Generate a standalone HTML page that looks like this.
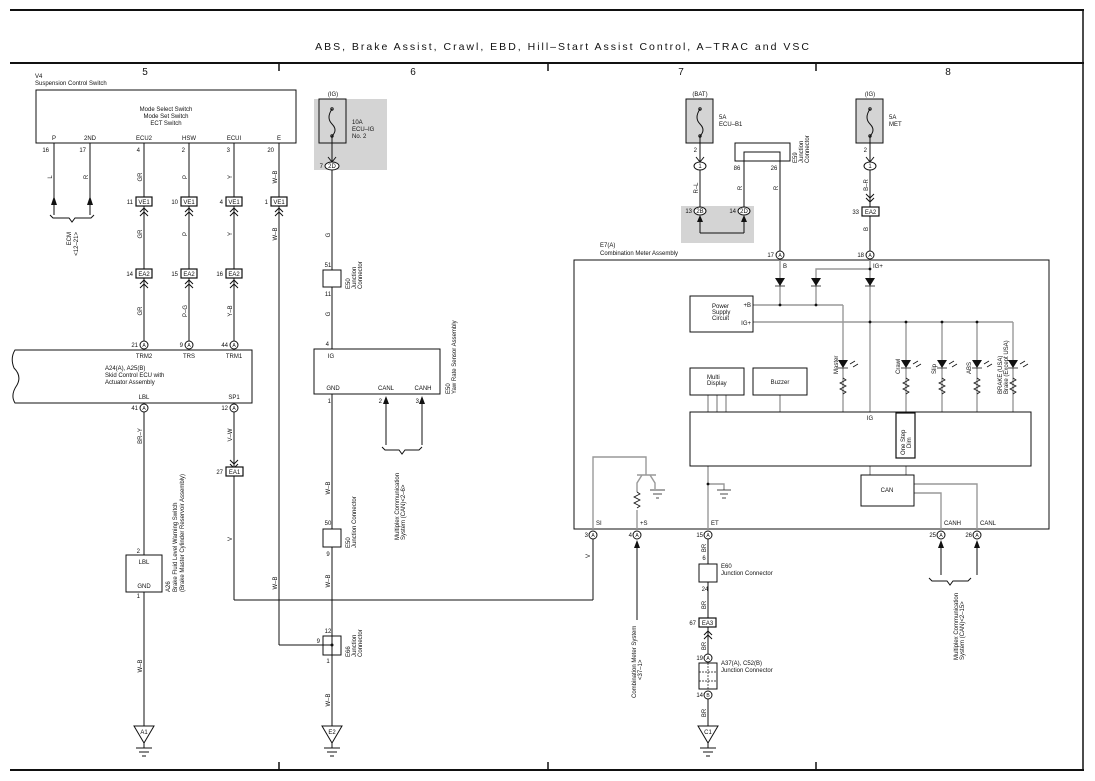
<!DOCTYPE html>
<html><head><meta charset="utf-8"><style>
html,body{margin:0;padding:0;background:#fff}
svg{display:block}
text{font-family:"Liberation Sans",sans-serif;font-size:6px;fill:#111}
.k{stroke:#111;stroke-width:1;fill:none}
.g{stroke:#999;stroke-width:1.4;fill:none}
.m{text-anchor:middle}
.e{text-anchor:end}
</style></head><body>
<svg width="1095" height="781" viewBox="0 0 1095 781" xmlns="http://www.w3.org/2000/svg">
<!-- frame -->
<line x1="10" y1="10" x2="1084" y2="10" stroke="#111" stroke-width="2"/>
<line x1="1083" y1="10" x2="1083" y2="771" stroke="#111" stroke-width="1.5"/>
<line x1="10" y1="63" x2="1084" y2="63" stroke="#111" stroke-width="2"/>
<line x1="10" y1="770" x2="1084" y2="770" stroke="#111" stroke-width="2"/>
<text x="563" y="50" class="m" style="font-size:10.5px;letter-spacing:2px">ABS, Brake Assist, Crawl, EBD, Hill–Start Assist Control, A–TRAC and VSC</text>
<g stroke="#111" stroke-width="1.5"><line x1="279" y1="63" x2="279" y2="71"/><line x1="548" y1="63" x2="548" y2="71"/><line x1="816" y1="63" x2="816" y2="71"/>
<line x1="279" y1="762" x2="279" y2="770"/><line x1="548" y1="762" x2="548" y2="770"/><line x1="816" y1="762" x2="816" y2="770"/></g>
<g style="font-size:10px" class="m"><text x="145" y="75" class="m" style="font-size:10px">5</text><text x="413" y="75" class="m" style="font-size:10px">6</text><text x="681" y="75" class="m" style="font-size:10px">7</text><text x="948" y="75" class="m" style="font-size:10px">8</text></g>

<!-- Suspension control switch -->
<text x="35" y="78">V4</text><text x="35" y="85">Suspension Control Switch</text>
<rect x="36" y="90" width="260" height="53" class="k"/>
<text x="166" y="111" class="m">Mode Select Switch</text><text x="166" y="118" class="m">Mode Set Switch</text><text x="166" y="125" class="m">ECT Switch</text>
<text x="54" y="140" class="m">P</text><text x="90" y="140" class="m">2ND</text><text x="144" y="140" class="m">ECU2</text><text x="189" y="140" class="m">HSW</text><text x="234" y="140" class="m">ECUI</text><text x="279" y="140" class="m">E</text>
<text x="49" y="152" class="e">16</text><text x="86" y="152" class="e">17</text><text x="140" y="152" class="e">4</text><text x="185" y="152" class="e">2</text><text x="230" y="152" class="e">3</text><text x="274" y="152" class="e">20</text>
<g class="k"><line x1="54" y1="143" x2="54" y2="215"/><line x1="90" y1="143" x2="90" y2="215"/>
<line x1="144" y1="143" x2="144" y2="341"/><line x1="189" y1="143" x2="189" y2="341"/><line x1="234" y1="143" x2="234" y2="341"/>
<line x1="279" y1="143" x2="279" y2="645"/><line x1="279" y1="645" x2="332" y2="645"/>
<path d="M50 215 l3 3 h16 l3 4 l3 -4 h16 l3 -3"/></g>
<polygon points="54,196 51,205 57,205" fill="#111"/><polygon points="90,196 87,205 93,205" fill="#111"/>
<text transform="translate(71,232) rotate(-90)" class="e">ECM</text><text transform="translate(78,232) rotate(-90)" class="e">&lt;12–21&gt;</text>
<!-- wire labels -->
<g><text transform="translate(52,177) rotate(-90)" class="m">L</text><text transform="translate(88,177) rotate(-90)" class="m">R</text>
<text transform="translate(142,177) rotate(-90)" class="m">GR</text><text transform="translate(187,177) rotate(-90)" class="m">P</text><text transform="translate(232,177) rotate(-90)" class="m">Y</text><text transform="translate(277,177) rotate(-90)" class="m">W–B</text>
<text transform="translate(142,234) rotate(-90)" class="m">GR</text><text transform="translate(187,234) rotate(-90)" class="m">P</text><text transform="translate(232,234) rotate(-90)" class="m">Y</text><text transform="translate(277,234) rotate(-90)" class="m">W–B</text>
<text transform="translate(142,311) rotate(-90)" class="m">GR</text><text transform="translate(187,311) rotate(-90)" class="m">P–G</text><text transform="translate(232,311) rotate(-90)" class="m">Y–B</text></g>
<!-- VE1 boxes -->
<g fill="#fff" stroke="#111" stroke-width="1.2"><rect x="136" y="197" width="16" height="9"/><rect x="181" y="197" width="16" height="9"/><rect x="226" y="197" width="16" height="9"/><rect x="271" y="197" width="16" height="9"/>
<rect x="136" y="269" width="16" height="9"/><rect x="181" y="269" width="16" height="9"/><rect x="226" y="269" width="16" height="9"/></g>
<text x="144" y="204" class="m">VE1</text><text x="189" y="204" class="m">VE1</text><text x="234" y="204" class="m">VE1</text><text x="279" y="204" class="m">VE1</text>
<text x="133" y="204" class="e">11</text><text x="178" y="204" class="e">10</text><text x="223" y="204" class="e">4</text><text x="268" y="204" class="e">1</text>
<text x="144" y="276" class="m">EA2</text><text x="189" y="276" class="m">EA2</text><text x="234" y="276" class="m">EA2</text>
<text x="133" y="276" class="e">14</text><text x="178" y="276" class="e">15</text><text x="223" y="276" class="e">16</text>
<g class="k"><path d="M140 212 l4 -4 l4 4 M140 216 l4 -4 l4 4 M185 212 l4 -4 l4 4 M185 216 l4 -4 l4 4 M230 212 l4 -4 l4 4 M230 216 l4 -4 l4 4 M275 212 l4 -4 l4 4 M275 216 l4 -4 l4 4
M140 284 l4 -4 l4 4 M140 288 l4 -4 l4 4 M185 284 l4 -4 l4 4 M185 288 l4 -4 l4 4 M230 284 l4 -4 l4 4 M230 288 l4 -4 l4 4"/></g>
<!-- pin circles A -->
<g fill="#fff" stroke="#111"><circle cx="144" cy="345" r="4"/><circle cx="189" cy="345" r="4"/><circle cx="234" cy="345" r="4"/><circle cx="144" cy="408" r="4"/><circle cx="234" cy="408" r="4"/></g>
<text x="144" y="347" class="m" style="font-size:5px">A</text><text x="189" y="347" class="m" style="font-size:5px">A</text><text x="234" y="347" class="m" style="font-size:5px">A</text><text x="144" y="410" class="m" style="font-size:5px">A</text><text x="234" y="410" class="m" style="font-size:5px">A</text>
<text x="138" y="347" class="e">21</text><text x="183" y="347" class="e">9</text><text x="228" y="347" class="e">44</text><text x="138" y="410" class="e">41</text><text x="228" y="410" class="e">12</text>
<!-- ECU -->
<path d="M15 350 H252 V403 H15 Q10 395 17 385 Q22 376 14 368 Q10 358 15 350 Z" class="k"/>
<text x="144" y="358" class="m">TRM2</text><text x="189" y="358" class="m">TRS</text><text x="234" y="358" class="m">TRM1</text>
<text x="105" y="370">A24(A), A25(B)</text><text x="105" y="377">Skid Control ECU with</text><text x="105" y="384">Actuator Assembly</text>
<text x="144" y="399" class="m">LBL</text><text x="234" y="399" class="m">SP1</text>
<g class="k"><line x1="144" y1="412" x2="144" y2="555"/><line x1="144" y1="592" x2="144" y2="726"/>
<line x1="234" y1="412" x2="234" y2="467"/><line x1="234" y1="476" x2="234" y2="600"/><line x1="234" y1="600" x2="593" y2="600"/><line x1="593" y1="600" x2="593" y2="539"/>
<path d="M230 464 l4 4 l4 -4 M230 460 l4 4 l4 -4"/></g>
<rect x="226" y="467" width="17" height="9" fill="#fff" stroke="#111" stroke-width="1.2"/><text x="234.5" y="474" class="m">EA1</text><text x="223" y="474" class="e">27</text>
<text transform="translate(142,436) rotate(-90)" class="m">BR–Y</text><text transform="translate(232,435) rotate(-90)" class="m">V–W</text><text transform="translate(232,539) rotate(-90)" class="m">V</text><text transform="translate(277,583) rotate(-90)" class="m">W–B</text>
<rect x="126" y="555" width="36" height="37" class="k"/><text x="144" y="564" class="m">LBL</text><text x="144" y="588" class="m">GND</text><text x="140" y="553" class="e">2</text><text x="140" y="598" class="e">1</text>
<text transform="translate(170,592) rotate(-90)">A26</text><text transform="translate(177,592) rotate(-90)">Brake Fluid Level Warning Switch</text><text transform="translate(184,592) rotate(-90)">(Brake Master Cylinder Reservoir Assembly)</text>
<text transform="translate(142,666) rotate(-90)" class="m">W–B</text>
<!-- grounds -->
<g class="k"><path d="M134 726 H154 L144 743 Z M144 743 V748 M136 748 H152 M139 752 H149 M142 756 H146"/>
<path d="M322 726 H342 L332 743 Z M332 743 V748 M324 748 H340 M327 752 H337 M330 756 H334"/>
<path d="M698 726 H718 L708 743 Z M708 743 V748 M700 748 H716 M703 752 H713 M706 756 H710"/></g>
<text x="144" y="734" class="m">A1</text><text x="332" y="734" class="m">E2</text><text x="708" y="734" class="m">C1</text>

<!-- column 6 -->
<rect x="314" y="99" width="73" height="71" fill="#d4d4d4"/>
<rect x="319" y="99" width="27" height="44" fill="#d4d4d4" stroke="#111"/>
<path d="M332 109 Q326 118 332 124 Q338 130 332 136" class="k"/><circle cx="332" cy="109" r="1.2" class="k"/><circle cx="332" cy="136" r="1.2" class="k"/>
<text x="333" y="96" class="m">(IG)</text><text x="352" y="124">10A</text><text x="352" y="131">ECU–IG</text><text x="352" y="138">No. 2</text>
<line x1="332" y1="136" x2="332" y2="162" class="k"/><path d="M328 157 l4 5 l4 -5" class="k"/>
<ellipse cx="332" cy="166" rx="7" ry="4" fill="#fff" stroke="#111"/><text x="332" y="168" class="m">2D</text><text x="323" y="168" class="e">7</text>
<g class="k"><line x1="332" y1="170" x2="332" y2="349"/><line x1="332" y1="394" x2="332" y2="726"/></g>
<text transform="translate(330,235) rotate(-90)" class="m">G</text><text transform="translate(330,314) rotate(-90)" class="m">G</text>
<rect x="323" y="270" width="18" height="17" fill="#fff" stroke="#111"/><text x="328" y="267" class="m">51</text><text x="328" y="296" class="m">11</text>
<text transform="translate(350,289) rotate(-90)">E50</text><text transform="translate(356,289) rotate(-90)">Junction</text><text transform="translate(362,289) rotate(-90)">Connector</text>
<text x="329" y="346" class="e">4</text>
<rect x="314" y="349" width="126" height="45" class="k"/><text x="331" y="358" class="m">IG</text>
<text x="333" y="390" class="m">GND</text><text x="386" y="390" class="m">CANL</text><text x="423" y="390" class="m">CANH</text>
<text transform="translate(450,394) rotate(-90)">E50</text><text transform="translate(456,394) rotate(-90)">Yaw Rate Sensor Assembly</text>
<text x="331" y="403" class="e">1</text><text x="382" y="403" class="e">2</text><text x="419" y="403" class="e">3</text>
<g class="k"><line x1="386" y1="403" x2="386" y2="445"/><line x1="422" y1="403" x2="422" y2="445"/><path d="M382 447 l3 3 h14 l3 4 l3 -4 h14 l3 -3"/></g>
<polygon points="386,396 383,404 389,404" fill="#111"/><polygon points="422,396 419,404 425,404" fill="#111"/>
<text transform="translate(399,540) rotate(-90)">Multiplex Communication</text><text transform="translate(405,540) rotate(-90)">System (CAN)&lt;2–6&gt;</text>
<text transform="translate(330,488) rotate(-90)" class="m">W–B</text><text transform="translate(330,581) rotate(-90)" class="m">W–B</text><text transform="translate(330,700) rotate(-90)" class="m">W–B</text>
<rect x="323" y="529" width="18" height="18" fill="#fff" stroke="#111"/><text x="328" y="525" class="m">50</text><text x="328" y="556" class="m">9</text>
<text transform="translate(350,548) rotate(-90)">E50</text><text transform="translate(356,548) rotate(-90)">Junction Connector</text>
<rect x="323" y="636" width="18" height="19" fill="#fff" stroke="#111"/><circle cx="332" cy="645" r="1.5" fill="#111"/><line x1="332" y1="636" x2="332" y2="655" class="k"/><line x1="323" y1="645" x2="332" y2="645" class="k"/>
<text x="328" y="633" class="m">12</text><text x="320" y="643" class="e">9</text><text x="328" y="663" class="m">1</text>
<text transform="translate(350,657) rotate(-90)">E66</text><text transform="translate(356,657) rotate(-90)">Junction</text><text transform="translate(362,657) rotate(-90)">Connector</text>

<!-- column 7/8 fuses -->
<rect x="686" y="99" width="27" height="44" fill="#d4d4d4" stroke="#111"/>
<path d="M700 109 Q694 118 700 124 Q706 130 700 136" class="k"/><circle cx="700" cy="109" r="1.2" class="k"/><circle cx="700" cy="136" r="1.2" class="k"/>
<text x="700" y="96" class="m">(BAT)</text><text x="719" y="119">5A</text><text x="719" y="126">ECU–B1</text>
<rect x="856" y="99" width="27" height="44" fill="#d4d4d4" stroke="#111"/>
<path d="M870 109 Q864 118 870 124 Q876 130 870 136" class="k"/><circle cx="870" cy="109" r="1.2" class="k"/><circle cx="870" cy="136" r="1.2" class="k"/>
<text x="870" y="96" class="m">(IG)</text><text x="889" y="119">5A</text><text x="889" y="126">MET</text>
<g class="k"><line x1="700" y1="136" x2="700" y2="162"/><path d="M696 157 l4 5 l4 -5"/><line x1="870" y1="136" x2="870" y2="162"/><path d="M866 157 l4 5 l4 -5"/></g>
<text x="697" y="152" class="e">2</text><text x="867" y="152" class="e">2</text>
<ellipse cx="700" cy="166" rx="6" ry="4" fill="#fff" stroke="#111"/><text x="700" y="168" class="m">1</text>
<ellipse cx="870" cy="166" rx="6" ry="4" fill="#fff" stroke="#111"/><text x="870" y="168" class="m">1</text>
<rect x="681" y="206" width="73" height="37" fill="#d4d4d4"/>
<g class="k"><line x1="700" y1="170" x2="700" y2="207"/><line x1="700" y1="220" x2="700" y2="233"/><line x1="700" y1="233" x2="744" y2="233"/><line x1="744" y1="233" x2="744" y2="220"/>
<path d="M744 207 V152 H780 V251"/><rect x="735" y="143" width="55" height="18"/>
<line x1="870" y1="170" x2="870" y2="207"/><line x1="870" y1="216" x2="870" y2="251"/><path d="M866 198 l4 4 l4 -4 M866 194 l4 4 l4 -4"/></g>
<polygon points="700,215 697,222 703,222" fill="#111"/><polygon points="744,215 741,222 747,222" fill="#111"/>
<ellipse cx="700" cy="211" rx="6" ry="4" fill="#fff" stroke="#111"/><text x="700" y="213" class="m">2B</text><text x="692" y="213" class="e">13</text>
<ellipse cx="744" cy="211" rx="6" ry="4" fill="#fff" stroke="#111"/><text x="744" y="213" class="m">2D</text><text x="736" y="213" class="e">14</text>
<text x="737" y="170" class="m">86</text><text x="774" y="170" class="m">26</text>
<text transform="translate(797,163) rotate(-90)">E59</text><text transform="translate(803,163) rotate(-90)">Junction</text><text transform="translate(809,163) rotate(-90)">Connector</text>
<text transform="translate(698,188) rotate(-90)" class="m">R–L</text><text transform="translate(742,188) rotate(-90)" class="m">R</text><text transform="translate(778,188) rotate(-90)" class="m">R</text>
<text transform="translate(868,185) rotate(-90)" class="m">B–R</text><text transform="translate(868,229) rotate(-90)" class="m">B</text>
<rect x="862" y="207" width="17" height="9" fill="#fff" stroke="#111" stroke-width="1.2"/><text x="870.5" y="214" class="m">EA2</text><text x="859" y="214" class="e">33</text>
<g fill="#fff" stroke="#111"><circle cx="780" cy="255" r="4"/><circle cx="870" cy="255" r="4"/></g>
<text x="780" y="257" class="m" style="font-size:5px">A</text><text x="870" y="257" class="m" style="font-size:5px">A</text>
<text x="774" y="257" class="e">17</text><text x="864" y="257" class="e">18</text>

<!-- combination meter -->
<text x="600" y="247">E7(A)</text><text x="600" y="255">Combination Meter Assembly</text>
<rect x="574" y="260" width="475" height="269" class="k"/>
<g class="g">
<line x1="780" y1="260" x2="780" y2="305"/><line x1="870" y1="260" x2="870" y2="412"/>
<path d="M816 286 V269 H870"/><line x1="816" y1="286" x2="816" y2="305"/>
<line x1="753" y1="305" x2="843" y2="305"/><line x1="843" y1="305" x2="843" y2="360"/>
<line x1="753" y1="322" x2="1013" y2="322"/>
<line x1="906" y1="322" x2="906" y2="360"/><line x1="942" y1="322" x2="942" y2="360"/><line x1="977" y1="322" x2="977" y2="360"/><line x1="1013" y1="322" x2="1013" y2="360"/>
<line x1="843" y1="368" x2="843" y2="412"/><line x1="906" y1="368" x2="906" y2="412"/><line x1="942" y1="368" x2="942" y2="412"/><line x1="977" y1="368" x2="977" y2="412"/><line x1="1013" y1="368" x2="1013" y2="412"/>
<line x1="708" y1="395" x2="708" y2="412"/><line x1="717" y1="395" x2="717" y2="412"/><line x1="726" y1="395" x2="726" y2="412"/><line x1="780" y1="395" x2="780" y2="412"/>
<line x1="870" y1="466" x2="870" y2="475"/><line x1="906" y1="466" x2="906" y2="475"/>
<path d="M914 484 H977 V529 M914 493 H941 V529"/>
<path d="M593 529 V457 H646 V475 M637 475 H656 M642 475 L637 483 V492 M650 475 L655 483 V489 M637 510 V529"/>
<path d="M708 466 V529 M708 484 H724 V490"/>
</g>
<g fill="#fff" stroke="#111"><rect x="690" y="296" width="63" height="36"/><rect x="690" y="368" width="54" height="27"/><rect x="753" y="368" width="54" height="27"/><rect x="690" y="412" width="341" height="54"/><rect x="896" y="413" width="19" height="45" stroke-width="1.2"/><rect x="861" y="475" width="53" height="31"/></g>
<g fill="#111"><polygon points="775,278 785,278 780,286"/><polygon points="811,278 821,278 816,286"/><polygon points="865,278 875,278 870,286"/>
<circle cx="780" cy="305" r="1.4"/><circle cx="816" cy="305" r="1.4"/><circle cx="870" cy="269" r="1.4"/><circle cx="870" cy="322" r="1.4"/><circle cx="906" cy="322" r="1.4"/><circle cx="942" cy="322" r="1.4"/><circle cx="977" cy="322" r="1.4"/><circle cx="708" cy="484" r="1.4"/>
<polygon points="838,360 848,360 843,368"/><polygon points="901,360 911,360 906,368"/><polygon points="937,360 947,360 942,368"/><polygon points="972,360 982,360 977,368"/><polygon points="1008,360 1018,360 1013,368"/></g>
<g stroke="#111" stroke-width="0.8" fill="none">
<path d="M775 286 H785 M811 286 H821 M865 286 H875 M838 368 H848 M901 368 H911 M937 368 H947 M972 368 H982 M1008 368 H1018"/>
<path d="M850 364 l5 -3 M853 367 l5 -3 M913 364 l5 -3 M916 367 l5 -3 M949 364 l5 -3 M952 367 l5 -3 M984 364 l5 -3 M987 367 l5 -3 M1020 364 l5 -3 M1023 367 l5 -3"/>
<path d="M843 378 l3 2 l-6 3 l6 3 l-6 3 l6 3 l-3 2 M906 378 l3 2 l-6 3 l6 3 l-6 3 l6 3 l-3 2 M942 378 l3 2 l-6 3 l6 3 l-6 3 l6 3 l-3 2 M977 378 l3 2 l-6 3 l6 3 l-6 3 l6 3 l-3 2 M1013 378 l3 2 l-6 3 l6 3 l-6 3 l6 3 l-3 2"/>
<path d="M637 492 l3 2 l-6 3 l6 3 l-6 3 l6 3 l-3 2"/>
<path d="M650 490 H665 M653 494 H662 M656 498 H659 M717 490 H731 M720 494 H728 M722 498 H726"/>
</g>
<text x="712" y="308">Power</text><text x="712" y="314">Supply</text><text x="712" y="320">Circuit</text>
<text x="751" y="307" class="e">+B</text><text x="751" y="325" class="e">IG+</text>
<text x="783" y="268">B</text><text x="873" y="268">IG+</text>
<text x="707" y="379">Multi</text><text x="707" y="385">Display</text><text x="780" y="384" class="m">Buzzer</text>
<text x="870" y="420" class="m">IG</text>
<text transform="translate(905,455) rotate(-90)">One Step</text><text transform="translate(911,448) rotate(-90)">Dim</text>
<text x="887" y="492" class="m">CAN</text>
<text transform="translate(838,374) rotate(-90)">Master</text><text transform="translate(900,374) rotate(-90)">Crawl</text><text transform="translate(936,374) rotate(-90)">Slip</text><text transform="translate(971,374) rotate(-90)">ABS</text>
<text transform="translate(1002,394) rotate(-90)">BRAKE (USA)</text><text transform="translate(1008,394) rotate(-90)">Brake (Except USA)</text>
<text x="596" y="525">SI</text><text x="640" y="525">+S</text><text x="711" y="525">ET</text><text x="944" y="525">CANH</text><text x="980" y="525">CANL</text>
<g fill="#fff" stroke="#111"><circle cx="593" cy="535" r="4"/><circle cx="637" cy="535" r="4"/><circle cx="708" cy="535" r="4"/><circle cx="941" cy="535" r="4"/><circle cx="977" cy="535" r="4"/><circle cx="708" cy="658" r="4"/><circle cx="708" cy="695" r="4"/></g>
<text x="593" y="537" class="m" style="font-size:5px">A</text><text x="637" y="537" class="m" style="font-size:5px">A</text><text x="708" y="537" class="m" style="font-size:5px">A</text><text x="941" y="537" class="m" style="font-size:5px">A</text><text x="977" y="537" class="m" style="font-size:5px">A</text><text x="708" y="660" class="m" style="font-size:5px">A</text><text x="708" y="697" class="m" style="font-size:5px">B</text>
<text x="588" y="537" class="e">3</text><text x="632" y="537" class="e">4</text><text x="703" y="537" class="e">15</text><text x="936" y="537" class="e">25</text><text x="972" y="537" class="e">26</text><text x="703" y="660" class="e">19</text><text x="703" y="697" class="e">14</text>
<text transform="translate(590,556) rotate(-90)" class="m">V</text>
<g class="k"><line x1="637" y1="546" x2="637" y2="620"/><line x1="708" y1="539" x2="708" y2="564"/><line x1="708" y1="582" x2="708" y2="618"/><line x1="708" y1="627" x2="708" y2="654"/><line x1="708" y1="699" x2="708" y2="726"/>
<path d="M704 635 l4 -4 l4 4 M704 639 l4 -4 l4 4"/>
<line x1="941" y1="546" x2="941" y2="575"/><line x1="977" y1="546" x2="977" y2="575"/><path d="M929 578 l3 3 h15 l3 4 l3 -4 h15 l3 -3"/></g>
<polygon points="637,540 634,548 640,548" fill="#111"/><polygon points="941,540 938,548 944,548" fill="#111"/><polygon points="977,540 974,548 980,548" fill="#111"/>
<text transform="translate(636,698) rotate(-90)">Combination Meter System</text><text transform="translate(642,680) rotate(-90)">&lt;37–1&gt;</text>
<text transform="translate(958,660) rotate(-90)">Multiplex Communication</text><text transform="translate(964,660) rotate(-90)">System (CAN)&lt;2–15&gt;</text>
<rect x="699" y="564" width="18" height="18" fill="#fff" stroke="#111"/><text x="704" y="560" class="m">6</text><text x="705" y="591" class="m">24</text>
<text x="721" y="568">E60</text><text x="721" y="575">Junction Connector</text>
<rect x="699" y="618" width="17" height="9" fill="#fff" stroke="#111" stroke-width="1.2"/><text x="707.5" y="625" class="m">EA3</text><text x="696" y="625" class="e">67</text>
<rect x="699" y="663" width="18" height="26" fill="#fff" stroke="#111"/><path d="M708 663 V689 M699 672 H717 M699 681 H717" stroke="#111" stroke-width="0.7" stroke-dasharray="2,1"/>
<text x="721" y="665">A37(A), C52(B)</text><text x="721" y="672">Junction Connector</text>
<text transform="translate(706,548) rotate(-90)" class="m">BR</text><text transform="translate(706,605) rotate(-90)" class="m">BR</text><text transform="translate(706,646) rotate(-90)" class="m">BR</text><text transform="translate(706,713) rotate(-90)" class="m">BR</text>
</svg>
</body></html>
